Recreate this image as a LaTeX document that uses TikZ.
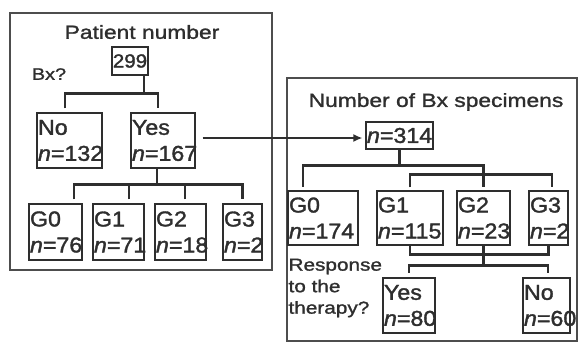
\documentclass[tikz,border=0pt]{standalone}
\usepackage{fontspec}
\setmainfont{Liberation Sans}
\newfontfamily\boxfont[FakeStretch=1.08, FakeBold=1.6]{Liberation Sans}
\newfontfamily\headfont[FakeStretch=1.2, FakeBold=1.4]{Liberation Sans}
\usetikzlibrary{calc,arrows.meta}
\definecolor{ink}{gray}{0.18}

\tikzset{
  frame/.style={draw=ink!85, line width=1.3pt},
  cnt/.style={draw=ink, line width=1.1pt, text=ink, text width=#1, minimum height=55pt,
    align=left, inner xsep=1pt, inner ysep=0pt, font=\boxfont\fontsize{21.5}{26}\selectfont},
  head/.style={text=ink, font=\headfont\fontsize{19}{22}\selectfont},
  link/.style={draw=ink, line width=2.6pt},
}

\begin{document}
\begin{tikzpicture}[x=1pt, y=-1pt]
  \useasboundingbox (0,0) rectangle (578,343);

  % patients
  \draw[frame] (10,13) rectangle (272,270);
  \node[head] (ttlA) at (142,32) {Patient number};
  \node[draw=ink, line width=1.1pt, text=ink, minimum width=36pt, minimum height=28pt, inner sep=0pt,
    font=\boxfont\fontsize{19}{22}\selectfont] (tot) at (130,61) {299};
  \node[head, font=\headfont\fontsize{16.5}{18}\selectfont] (bx) at (49,74) {Bx?};
  \node[cnt=63pt] (no) at (69.5,140.5) {No\\\textit{n}=132};
  \node[cnt=62pt] (yes) at (163,140.5) {Yes\\\textit{n}=167};
  \node[cnt=51pt, minimum height=56pt] (g0) at (55.5,232) {G0\\\textit{n}=76};
  \node[cnt=49pt, minimum height=56pt] (g1) at (118.5,232) {G1\\\textit{n}=71};
  \node[cnt=49pt, minimum height=56pt] (g2) at (180.5,232) {G2\\\textit{n}=18};
  \node[cnt=37pt, minimum height=56pt] (g3) at (242.5,232) {G3\\\textit{n}=2};

  \draw[link] ($(tot.south)+(14,0)$) -- ++(0,18) coordinate (jA);
  \draw[link, shorten <=4pt, shorten >=4pt] ($(no.north)+(-4.5,0)$) |- (jA) -| ($(yes.north)+(-5,0)$);
  \draw[link] ($(yes.south)+(-6,0)$) -- ++(0,16) coordinate (jG);
  \draw[link, shorten <=4pt, shorten >=4pt] ($(g0.north)+(18.5,0)$) |- (jG) -| (g3.north);
  \draw[link, shorten <=4pt] ($(g1.north)+(10.5,0)$) -- ($(g1.north)+(10.5,-19)$);
  \draw[link, shorten <=4pt] ($(g2.north)+(4.5,0)$) -- ($(g2.north)+(4.5,-19)$);

  % specimens
  \draw[frame] (287,78) rectangle (577,341);
  \node[head] (ttlB) at (436,102) {Number of Bx specimens};
  \node[cnt=65pt, minimum height=27pt] (spc) at (399.5,135.5) {\textit{n}=314};
  \draw[link, line width=2.2pt, -{Latex[length=9pt, width=8pt]}] ($(yes.east)+(7,-2.5)$) -- ($(spc.west)+(-3,2.5)$);

  \node[cnt=68pt, minimum height=54pt] (h0) at (323,218) {G0\\\textit{n}=174};
  \node[cnt=64pt, minimum height=54pt] (h1) at (410,218) {G1\\\textit{n}=115};
  \node[cnt=51pt, minimum height=54pt] (h2) at (483.5,218) {G2\\\textit{n}=23};
  \node[cnt=37pt, minimum height=54pt] (h3) at (548.5,218) {G3\\\textit{n}=2};

  \draw[link] (spc.south) -- ++(0,16) coordinate (jB);
  \draw[link, shorten >=3pt] (jB) -| ($(h0.north)+(-20,0)$);
  \draw[link, shorten >=3pt] (jB) -| (h2.north);
  \draw[link, shorten <=3pt, shorten >=3pt] (h1.north) |- ($(h2.north)+(0,-16)$) -| ($(h3.north)+(3.5,0)$);

  \draw[link] (h1.south) -- ++(0,9) -| (h3.south);
  \draw[link] (h2.south) -- ++(0,20) coordinate (jC);
  \node[head, font=\headfont\fontsize{17.3}{21.5}\selectfont, align=left, anchor=west] (resp) at (285,288) {Response\\to the\\therapy?};
  \node[cnt=50pt] (ryes) at (409,305.5) {Yes\\\textit{n}=80};
  \node[cnt=45pt] (rno) at (546.5,305.5) {No\\\textit{n}=60};
  \draw[link, shorten >=4pt] (jC) -| (ryes.north);
  \draw[link, shorten >=4pt] (jC) -| ($(rno.north)+(1.5,0)$);
\end{tikzpicture}
\end{document}
